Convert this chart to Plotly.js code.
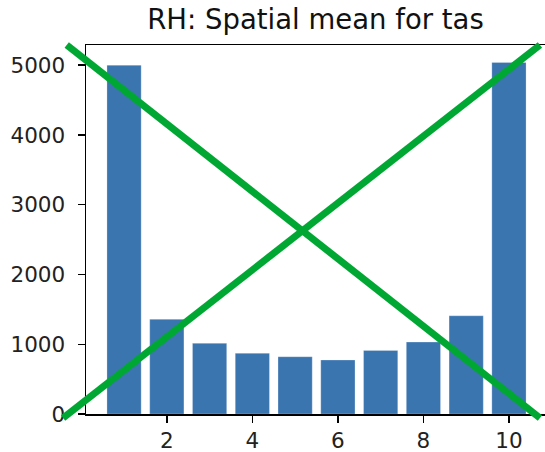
<!DOCTYPE html>
<html>
<head>
<meta charset="utf-8">
<script src="https://cdn.plot.ly/plotly-3.0.1.min.js"></script>
<style>html,body{margin:0;padding:0;background:#fff;}#chart{width:545px;height:452px;}</style>
</head>
<body>
<div id="chart"></div>
<script>
const categories = [1, 2, 3, 4, 5, 6, 7, 8, 9, 10];
const values = [5000, 1357, 1013, 870, 821, 774, 912, 1031, 1408, 5040];
const yTicks = [0, 1000, 2000, 3000, 4000, 5000];
const xTicks = [2, 4, 6, 8, 10];
const titleText = "RH: Spatial mean for tas";

const font = "DejaVu Sans, sans-serif";
const trace = {
  type: "bar",
  x: categories,
  y: values,
  marker: {color: "#3a75b0", line: {color: "rgba(255,255,255,0.5)", width: 0.5}},
  hoverinfo: "none"
};
const green = "#00a833";
const layout = {
  width: 545, height: 452,
  margin: {l: 86, r: 0, t: 45, b: 38, pad: 0},
  paper_bgcolor: "#fff", plot_bgcolor: "#fff",
  showlegend: false,
  bargap: 0.2,
  title: {text: titleText, font: {family: font, size: 27.5, color: "#111"}, x: 0.5, xref: "paper", y: 0.935, yanchor: "bottom", yref: "container"},
  xaxis: {
    range: [0.11, 10.843], tickvals: xTicks, ticktext: xTicks.map(String),
    ticks: "outside", ticklen: 7, tickwidth: 1.5, tickcolor: "#000",
    showline: true, linecolor: "#000", linewidth: 1.5, mirror: true,
    showgrid: false, zeroline: false,
    tickfont: {family: font, size: 21.5, color: "#222"}
  },
  yaxis: {
    range: [0, 5290], tickvals: yTicks, ticktext: yTicks.map(String),
    ticks: "outside", ticklen: 7, tickwidth: 1.5, tickcolor: "#000",
    showline: true, linecolor: "#000", linewidth: 1.5, mirror: true,
    showgrid: false, zeroline: false,
    ticklabelstandoff: 8,
    tickfont: {family: font, size: 21.5, color: "#222"}
  },
  shapes: [
    {type: "line", xref: "paper", yref: "paper", x0: -0.042, y0: 1.0, x1: 0.989, y1: -0.0108, line: {color: green, width: 7}},
    {type: "line", xref: "paper", yref: "paper", x0: -0.050, y0: -0.0108, x1: 0.989, y1: 1.0, line: {color: green, width: 7}}
  ]
};
Plotly.newPlot("chart", [trace], layout, {displayModeBar: false, staticPlot: true});
</script>
</body>
</html>
